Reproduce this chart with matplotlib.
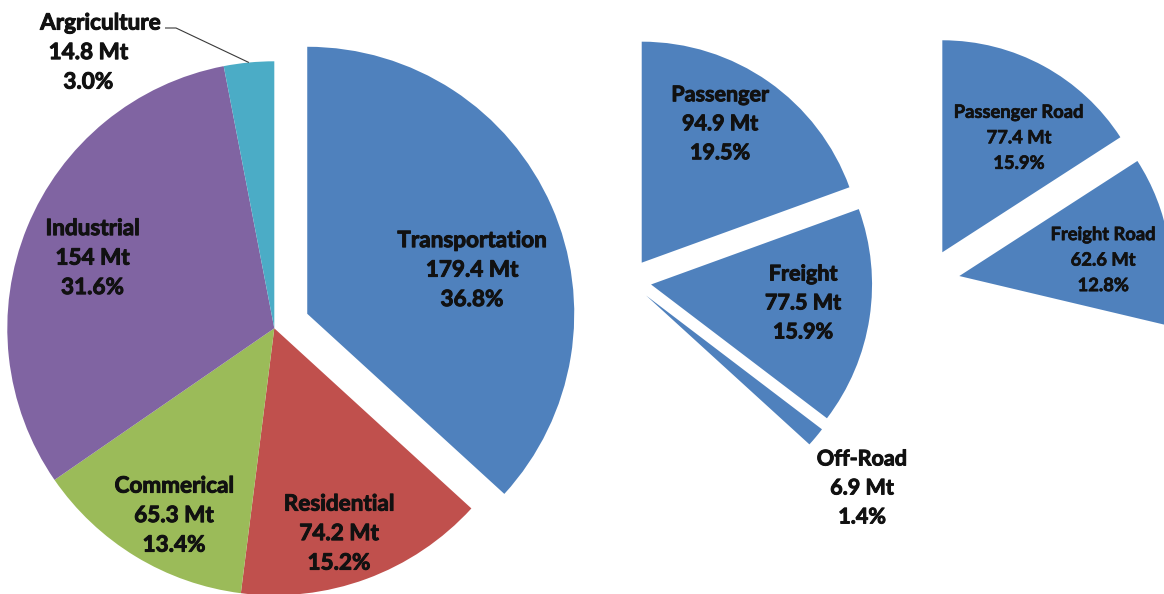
import matplotlib
matplotlib.use("Agg")
import matplotlib.pyplot as plt
import matplotlib.patheffects as pe
import numpy as np

# Emissions by sector (Mt)
sectors = ["Transportation", "Residential", "Commerical", "Industrial", "Argriculture"]
sector_mt = [179.4, 74.2, 65.3, 154.0, 14.8]
sector_pct = [36.8, 15.2, 13.4, 31.6, 3.0]

# Transportation broken down by mode
transport_modes = ["Passenger", "Freight", "Off-Road"]
transport_mt = [94.9, 77.5, 6.9]
transport_pct = [19.5, 15.9, 1.4]

# Road portion of passenger and freight
road_modes = ["Passenger Road", "Freight Road"]
road_mt = [77.4, 62.6]
road_pct = [15.9, 12.8]

total_mt = sum(sector_mt)

# ---- styling -------------------------------------------------------------
sector_colors = ["#4F81BD", "#C0504D", "#9BBB59", "#8064A2", "#4BACC6"]
blue = "#4F81BD"
FONT = ["Lato", "DejaVu Sans"]
TEXT_COLOR = "#111111"
W, H = 1164, 594

fig = plt.figure(figsize=(W / 100, H / 100), dpi=100)
ax = fig.add_axes([0, 0, 1, 1])


def Y(y_img):
    """Convert a top-down pixel row to the axes' bottom-up coordinate."""
    return H - y_img


def label_block(x, y, lines, size, spacing, first_dx=0.0, stroke=0.7):
    """Centred multi-line label; (x, y) is the block centre in pixel rows."""
    em = size * 100 / 72
    n = len(lines)
    for i, line in enumerate(lines):
        yc = y + (i - (n - 1) / 2) * spacing
        dx = first_dx if i == 0 else 0.0
        ax.text(x + dx, Y(yc + 0.36 * em), line, ha="center", va="baseline",
                fontsize=size, fontweight="bold", family=FONT, color=TEXT_COLOR,
                path_effects=[pe.withStroke(linewidth=stroke,
                                            foreground=TEXT_COLOR)])


def label_lines(name, mt, pct):
    return [name, f"{mt:g} Mt", f"{pct:.1f}%"]


# ---- main sector pie -----------------------------------------------------
main_center = (274.3, Y(328.3))
main_r = 267
main_explode = [36, 0, 0, 0, 0]
main_wedges, _ = ax.pie(sector_mt, colors=sector_colors, startangle=90,
                        counterclock=False, explode=main_explode,
                        center=main_center, radius=main_r,
                        wedgeprops=dict(linewidth=0))

main_label_xy = [(472, 268.5), (339, 532), (174, 514), (92.5, 256.5), (88.3, 51)]
for i, (name, mt, pct) in enumerate(zip(sectors, sector_mt, sector_pct)):
    lx, ly = main_label_xy[i]
    label_block(lx, ly, label_lines(name, mt, pct), 16.2, 29.5,
                first_dx=12 if i == 4 else 0)

# leader line for the thin agriculture slice
w = main_wedges[4]
mid = np.deg2rad(0.5 * (w.theta1 + w.theta2))
tip = (w.center[0] + w.r * np.cos(mid), w.center[1] + w.r * np.sin(mid))
ax.plot([165, 176, tip[0]], [Y(28), Y(28), tip[1]], color="#3a3a3a",
        linewidth=0.8, solid_capstyle="butt")

# ---- transportation modes (share of the national total) ----------------
mid_center = (628.8, Y(281.1))
mid_r = 221
mode_vals = transport_mt + [total_mt - sum(transport_mt)]
mode_colors = [blue] * len(transport_mt) + ["none"]
mode_explode = [22.5] * len(transport_mt) + [0]
ax.pie(mode_vals, colors=mode_colors, startangle=90, counterclock=False,
       explode=mode_explode, center=mid_center, radius=mid_r,
       wedgeprops=dict(linewidth=0))

mid_label_xy = [(720, 122.5), (803, 301.7), (862, 486.7)]
for (lx, ly), name, mt, pct in zip(mid_label_xy, transport_modes, transport_mt,
                                    transport_pct):
    label_block(lx, ly, label_lines(name, mt, pct), 15.5, 29)

# ---- road portions --------------------------------------------------------
road_center = (926.3, Y(281.7))
road_r = 212
road_vals = road_mt + [total_mt - sum(road_mt)]
road_colors = [blue] * len(road_mt) + ["none"]
road_explode = [33.5] * len(road_mt) + [0]
ax.pie(road_vals, colors=road_colors, startangle=90, counterclock=False,
       explode=road_explode, center=road_center, radius=road_r,
       wedgeprops=dict(linewidth=0))

road_label_xy = [(1019, 136.7), (1103.3, 259)]
for (lx, ly), name, mt, pct in zip(road_label_xy, road_modes, road_mt, road_pct):
    label_block(lx, ly, label_lines(name, mt, pct), 13.2, 25.5, stroke=0.5)

ax.set_xlim(0, W)
ax.set_ylim(0, H)
ax.set_aspect("auto")
ax.set_axis_off()

fig.savefig("out.png", dpi=100, facecolor="white")
